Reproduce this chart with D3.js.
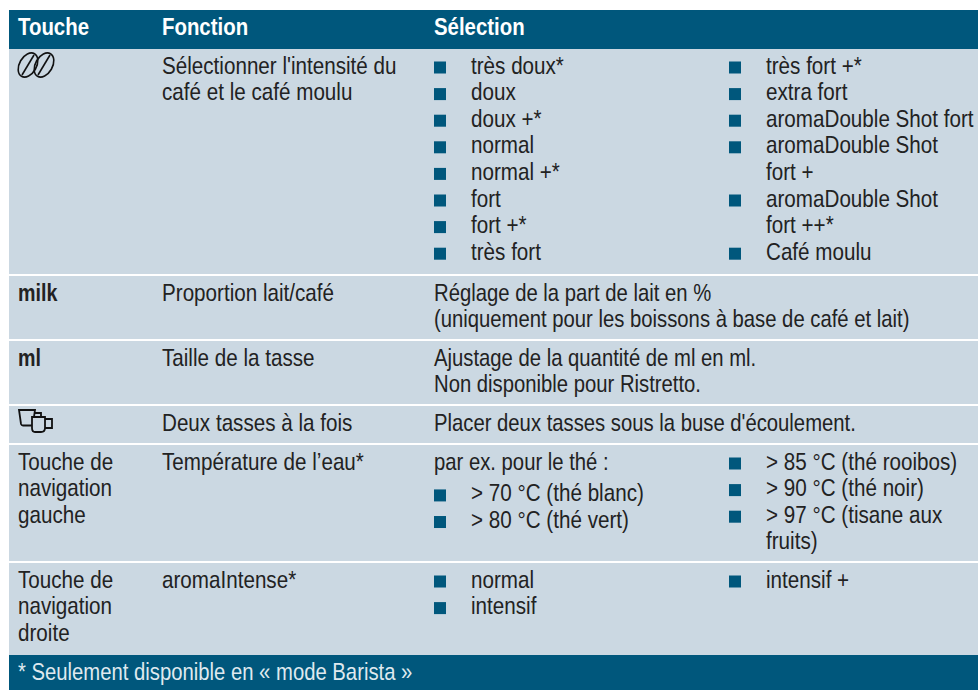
<!DOCTYPE html>
<html>
<head>
<meta charset="utf-8">
<script src="https://cdn.jsdelivr.net/npm/d3@7"></script>
<style>
html, body { margin: 0; padding: 0; background: #fff; }
text { font-family: "Liberation Sans", sans-serif; }
</style>
</head>
<body>
<div id="chart"></div>
<script>
// table content
const columns = ["Touche", "Fonction", "Sélection"];
const rows = ["intensite", "milk", "ml", "deux", "eau", "aroma"];
const footnote = "* Seulement disponible en « mode Barista »";

const keyLabels = [[], ["milk"], ["ml"], [], ["Touche de", "navigation", "gauche"], ["Touche de", "navigation", "droite"]];
const functionLabels = [
    ["Sélectionner l'intensité du", "café et le café moulu"],
    ["Proportion lait/café"],
    ["Taille de la tasse"],
    ["Deux tasses à la fois"],
    ["Température de l’eau*"],
    ["aromaIntense*"]
];
const plainLabels = [
    [],
    ["Réglage de la part de lait en %", "(uniquement pour les boissons à base de café et lait)"],
    ["Ajustage de la quantité de ml en ml.", "Non disponible pour Ristretto."],
    ["Placer deux tasses sous la buse d'écoulement."],
    ["par ex. pour le thé :"],
    []
];
// each item is one bullet, inner arrays are wrapped lines
const leftItems = [
    [["très doux*"], ["doux"], ["doux +*"], ["normal"], ["normal +*"], ["fort"], ["fort +*"], ["très fort"]],
    [], [], [],
    [["> 70 °C (thé blanc)"], ["> 80 °C (thé vert)"]],
    [["normal"], ["intensif"]]
];
const rightItems = [
    [["très fort +*"], ["extra fort"], ["aromaDouble Shot fort"], ["aromaDouble Shot", "fort +"], ["aromaDouble Shot", "fort ++*"], ["Café moulu"]],
    [], [], [],
    [["> 85 °C (thé rooibos)"], ["> 90 °C (thé noir)"], ["> 97 °C (tisane aux", "fruits)"]],
    [["intensif +"]]
];

const width = 978, height = 690;
const blue = "#00577c", pale = "#cbd8e2", ink = "#222";
const fontSize = 24, lineH = 26.6, squeeze = 0.86, baseline = 24.5;

const x = d3.scaleOrdinal().domain(columns).range([18, 162, 434]);
const rowTop = d3.scaleOrdinal().domain(rows).range([49, 276, 341, 406, 445, 563]);
const rowEnd = d3.scaleOrdinal().domain(rows).range([274, 339, 404, 443, 561, 655]);
const listX = d3.scaleOrdinal().domain(["left", "right"]).range([434, 729]);
const bulletGap = 37;

const svg = d3.select("#chart").append("svg")
    .attr("width", width)
    .attr("height", height)
    .style("display", "block");

// condensed look, the narrow font is not available
const at = (tx, ty, s) => `translate(${tx},${ty}) scale(${s},1)`;

// background bands
svg.selectAll("rect.row")
    .data(rows)
    .enter().append("rect")
    .attr("class", "row")
    .attr("x", 9)
    .attr("y", d => rowTop(d))
    .attr("width", width - 9)
    .attr("height", d => rowEnd(d) - rowTop(d))
    .attr("fill", pale);

svg.append("rect").attr("x", 9).attr("y", 10).attr("width", width - 9).attr("height", 39).attr("fill", blue);
svg.append("rect").attr("x", 9).attr("y", 655).attr("width", width - 9).attr("height", 35).attr("fill", blue);

svg.selectAll("text.head")
    .data(columns)
    .enter().append("text")
    .attr("class", "head")
    .attr("transform", d => at(x(d), 35, 0.85))
    .attr("fill", "#fff")
    .attr("font-size", 24)
    .attr("font-weight", "bold")
    .text(d => d);

svg.append("text")
    .attr("transform", at(18, 680, 0.845))
    .attr("fill", "#dfe9ef")
    .attr("font-size", fontSize)
    .text(footnote);

function lines(col, colX, bold, s) {
    rows.forEach((r, i) => {
        svg.append("g").selectAll("text")
            .data(col[i])
            .enter().append("text")
            .attr("transform", (d, j) => at(colX, rowTop(r) + baseline + j * lineH, s))
            .attr("fill", ink)
            .attr("font-size", fontSize)
            .attr("font-weight", bold ? "bold" : "normal")
            .text(d => d);
    });
}

lines(keyLabels.map(d => d.length === 1 ? d : []), x("Touche"), true, 0.82);
lines(keyLabels.map(d => d.length > 1 ? d : []), x("Touche"), false, squeeze);
lines(functionLabels, x("Fonction"), false, squeeze);
lines(plainLabels, x("Sélection"), false, 0.845);

function bullets(col, side) {
    rows.forEach((r, i) => {
        // the tea row starts below its intro line on the left
        let n = (r === "eau" && side === "left") ? 1.2 : 0;
        col[i].forEach(item => {
            const y0 = rowTop(r) + baseline + n * lineH;
            svg.append("rect")
                .attr("x", listX(side))
                .attr("y", y0 - 12)
                .attr("width", 12)
                .attr("height", 12)
                .attr("fill", blue);
            svg.append("g").selectAll("text")
                .data(item)
                .enter().append("text")
                .attr("transform", (d, j) => at(listX(side) + bulletGap, y0 + j * lineH, squeeze))
                .attr("fill", ink)
                .attr("font-size", fontSize)
                .text(d => d);
            n += item.length;
        });
    });
}

bullets(leftItems, "left");
bullets(rightItems, "right");

// coffee bean icon
const bean = svg.append("g")
    .attr("transform", "translate(18,53)")
    .attr("fill", "none")
    .attr("stroke", "#111")
    .attr("stroke-width", 1.6);
[10, 26].forEach(cx => {
    bean.append("ellipse").attr("cx", cx).attr("cy", 12)
        .attr("rx", 8.5).attr("ry", 13)
        .attr("transform", `rotate(30 ${cx} 12)`);
    bean.append("path").attr("d", `M${cx + 6},2 L${cx - 6},22`);
});

// two cups icon
const cups = svg.append("g")
    .attr("transform", "translate(18,409)")
    .attr("stroke", "#111")
    .attr("stroke-width", 1.8)
    .attr("fill", "none");
cups.append("path").attr("d", "M1,1 H17 L15,15 Q14.5,16.5 13,16.5 H5 Q3.5,16.5 3,15 Z");
cups.append("path").attr("d", "M17,4 H23 V10");
cups.append("path").attr("d", "M14,8 H27 V19 Q27,23 23,23 H17 Q14,23 14,19 Z").attr("fill", pale);
cups.append("path").attr("d", "M27,10 H34 V19 H27");
</script>
</body>
</html>
